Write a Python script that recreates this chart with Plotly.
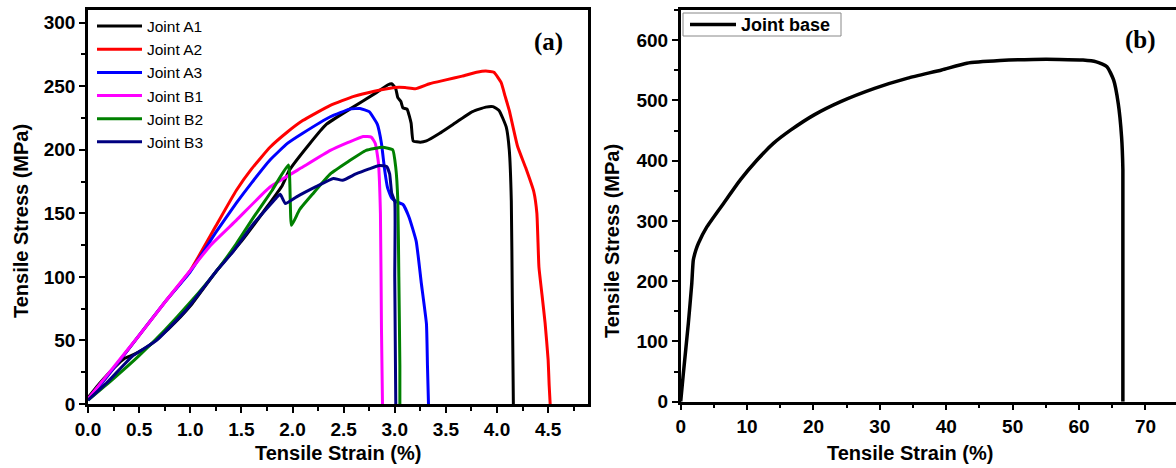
import plotly.graph_objects as go

# ---------------- data: panel (a) ----------------
a1_x = [0, 0.1, 0.2, 0.3, 0.36, 0.45, 0.6, 0.8, 1.0, 1.26, 1.5, 1.75, 1.9, 1.97, 2.17, 2.33, 2.56, 2.82, 2.93, 2.97,
        3.01, 3.03, 3.06, 3.08, 3.12, 3.16, 3.18, 3.25, 3.31, 3.44, 3.57, 3.76, 3.89, 3.96, 4.02, 4.09, 4.12, 4.14,
        4.15, 4.16]
a1_y = [5, 15, 24, 32, 36, 39, 46, 60, 77, 105, 128, 155, 172, 184, 205, 220, 232, 245, 251, 252,
        248, 241, 238, 233, 232, 221, 207, 206, 207, 213, 220, 230, 233.6, 234, 231, 218, 200, 160,
        80, 0]

a2_x = [0, 0.25, 0.5, 0.75, 1.0, 1.25, 1.45, 1.6, 1.78, 1.95, 2.1, 2.37, 2.6, 2.8, 3.0, 3.1, 3.2, 3.34, 3.5, 3.66,
        3.8, 3.89, 3.97, 4.04, 4.08, 4.12, 4.2, 4.28, 4.36, 4.39, 4.41, 4.44, 4.47, 4.5, 4.51, 4.52]
a2_y = [3, 28, 54, 80, 105, 140, 168, 185, 202, 214, 223, 235, 242, 246, 249, 249, 248, 252, 255, 258,
        261, 262, 261, 253, 242, 231, 203, 186, 167, 150, 108, 86, 64, 35, 15, 0]

a3_x = [0, 0.25, 0.5, 0.75, 1.0, 1.25, 1.45, 1.6, 1.78, 1.95, 2.1, 2.37, 2.56, 2.66, 2.75, 2.83, 2.87, 2.9, 2.93,
        2.97, 3.02, 3.08, 3.14, 3.21, 3.26, 3.31, 3.32, 3.33]
a3_y = [3, 28, 54, 80, 104, 135, 158, 174, 192, 205, 213, 226, 232, 232.5, 230, 220, 205, 185, 170,
        162, 159, 157, 147, 128, 95, 63, 30, 0]

b1_x = [0, 0.25, 0.5, 0.77, 1.0, 1.2, 1.45, 1.78, 2.1, 2.37, 2.55, 2.69, 2.77, 2.81, 2.84, 2.86, 2.87, 2.88]
b1_y = [4, 29, 54, 82, 105, 125, 144.5, 170.7, 186.4, 199.5, 206, 210.5, 210, 205, 190, 150, 60, 0]

b2_x = [0, 0.25, 0.5, 0.75, 1.0, 1.26, 1.45, 1.62, 1.8, 1.96, 1.99, 2.07, 2.2, 2.37, 2.55, 2.72, 2.88, 2.98,
        3.01, 3.03, 3.04, 3.05, 3.05]
b2_y = [3, 20, 38, 58, 80, 105, 126, 147, 168, 188, 140.6, 153, 165.5, 181, 191, 199.5, 202, 200,
        186, 160, 100, 30, 0]

b3_x = [0, 0.2, 0.44, 0.67, 0.96, 1.26, 1.42, 1.62, 1.84, 1.88, 1.93, 2.04, 2.23, 2.4, 2.49, 2.62, 2.75, 2.85,
        2.92, 2.95, 2.97, 3.0, 3.0, 3.01]
b3_y = [3, 18, 38, 50, 74, 105, 120, 142, 162, 165, 157.7, 163, 171, 177.5, 176, 181, 185, 187.7,
        187, 181, 166, 159, 100, 0]

# ---------------- data: panel (b) ----------------
base_x = [0, 0.4, 1.15, 1.67, 1.9, 2.3, 2.67, 3.94, 6.45, 8.98, 11.5, 14.0, 16.6, 20.1, 24.1, 29.2, 34.2, 39.3,
          43.1, 48.1, 53.1, 57.0, 60.6, 62.6, 64.2, 65.2, 65.9, 66.4, 66.6, 66.6]
base_y = [0, 47, 130, 196.5, 235, 252, 263, 290, 329, 368, 401, 429, 451, 476, 498, 520, 537, 550.5,
          561.6, 566, 568, 568, 567, 564, 556, 534, 495, 440, 385, 0]
base_name = "Joint base"

names_a = ["Joint A1", "Joint A2", "Joint A3", "Joint B1", "Joint B2", "Joint B3"]
colors_a = ["#000000", "#ff0000", "#0000ff", "#ff00ff", "#008000", "#000080"]
series_a = [(a1_x, a1_y), (a2_x, a2_y), (a3_x, a3_y), (b1_x, b1_y), (b2_x, b2_y), (b3_x, b3_y)]

xa_ticks = [0.0, 0.5, 1.0, 1.5, 2.0, 2.5, 3.0, 3.5, 4.0, 4.5]
ya_ticks = [0, 50, 100, 150, 200, 250, 300]
xb_ticks = [0, 10, 20, 30, 40, 50, 60, 70]
yb_ticks = [0, 100, 200, 300, 400, 500, 600]

# ---------------- figure ----------------
W, H = 1176, 468
ML, MR, MT, MB = 0, 0, 10, 64
PH = H - MT - MB


def px_x(p):
    return p / W


def px_y(p):
    return (H - MB - p) / PH


SANS = "Liberation Sans, Arial, sans-serif"
SERIF = "Liberation Serif, Times New Roman, serif"

fig = go.Figure()

for (xs, ys), nm, col in zip(series_a, names_a, colors_a):
    fig.add_trace(go.Scatter(x=xs, y=ys, mode="lines", name=nm,
                             line=dict(color=col, width=3, shape="spline", smoothing=0.4),
                             xaxis="x", yaxis="y", legend="legend"))

fig.add_trace(go.Scatter(x=base_x, y=base_y, mode="lines", name=base_name, showlegend=False,
                         line=dict(color="#000000", width=3.5, shape="spline", smoothing=0.5),
                         xaxis="x2", yaxis="y2"))

tickfont = dict(family=SANS, size=19, color="black", weight="bold")
axis_common = dict(showline=True, linecolor="black", linewidth=2.5, ticks="outside",
                   ticklen=6, tickwidth=2, tickcolor="black", showgrid=False, zeroline=False,
                   tickfont=tickfont, mirror=True, automargin=False)

fig.update_layout(
    template="none",
    width=W, height=H,
    margin=dict(l=ML, r=MR, t=MT, b=MB, pad=0, autoexpand=False),
    paper_bgcolor="white", plot_bgcolor="white",
    showlegend=True,
    xaxis=dict(domain=[px_x(88), px_x(588)], range=[0, 4.89], tickvals=xa_ticks,
               ticktext=[f"{v:.1f}" for v in xa_ticks],
               minor=dict(dtick=0.25, ticks="outside", ticklen=4, tickwidth=2, tickcolor="black"),
               anchor="y", **axis_common),
    yaxis=dict(domain=[0, 1], range=[0, 310], tickvals=ya_ticks,
               minor=dict(dtick=25, ticks="outside", ticklen=4, tickwidth=2, tickcolor="black"),
               anchor="x", **axis_common),
    xaxis2=dict(domain=[px_x(680.7), 1], range=[0, 74.6], tickvals=xb_ticks,
                minor=dict(dtick=5, ticks="outside", ticklen=4, tickwidth=2, tickcolor="black"),
                anchor="y2", **axis_common),
    yaxis2=dict(domain=[px_y(401.7), 1], range=[0, 650], tickvals=yb_ticks,
                minor=dict(dtick=50, ticks="outside", ticklen=4, tickwidth=2, tickcolor="black"),
                anchor="x2", **{**axis_common, "mirror": False}),
    legend=dict(x=px_x(92), y=px_y(9.5), xanchor="left", yanchor="top",
                bgcolor="rgba(0,0,0,0)", borderwidth=0,
                font=dict(family=SANS, size=15.5, color="black"),
                itemwidth=45, tracegroupgap=0),
)

# legend box of panel (b)
shapes = [
    dict(type="rect", xref="paper", yref="paper", x0=px_x(683), x1=px_x(841), y0=px_y(36), y1=px_y(13),
         line=dict(color="#888888", width=1), fillcolor="white", layer="above"),
    dict(type="line", xref="paper", yref="paper", x0=px_x(690), x1=px_x(736), y0=px_y(24.5), y1=px_y(24.5),
         line=dict(color="black", width=3.5), layer="above"),
]
fig.update_layout(shapes=shapes)

title_font = dict(family=SANS, size=20, color="black", weight="bold")
annotations = [
    dict(text=base_name, x=px_x(739), y=px_y(24.5), xref="paper", yref="paper",
         showarrow=False, xanchor="left", yanchor="middle",
         font=dict(family=SANS, size=18, color="black", weight="bold")),
    dict(text="Tensile Strain (%)", x=px_x(338), y=px_y(453), xref="paper", yref="paper",
         showarrow=False, xanchor="center", yanchor="middle", font=title_font),
    dict(text="Tensile Strain (%)", x=px_x(910), y=px_y(453), xref="paper", yref="paper",
         showarrow=False, xanchor="center", yanchor="middle", font=title_font),
    dict(text="Tensile Stress (MPa)", x=px_x(21), y=px_y(221), xref="paper", yref="paper",
         showarrow=False, xanchor="center", yanchor="middle", textangle=-90, font=title_font),
    dict(text="Tensile Stress (MPa)", x=px_x(612), y=px_y(241), xref="paper", yref="paper",
         showarrow=False, xanchor="center", yanchor="middle", textangle=-90, font=title_font),
    dict(text="(a)", x=px_x(548), y=px_y(42), xref="paper", yref="paper",
         showarrow=False, xanchor="center", yanchor="middle",
         font=dict(family=SERIF, size=25, color="black", weight="bold")),
    dict(text="(b)", x=px_x(1140), y=px_y(40), xref="paper", yref="paper",
         showarrow=False, xanchor="center", yanchor="middle",
         font=dict(family=SERIF, size=25, color="black", weight="bold")),
]
fig.update_layout(annotations=annotations)

fig.write_html("out.html", config={"displayModeBar": False},
               post_script="document.body.style.margin='0px';")
